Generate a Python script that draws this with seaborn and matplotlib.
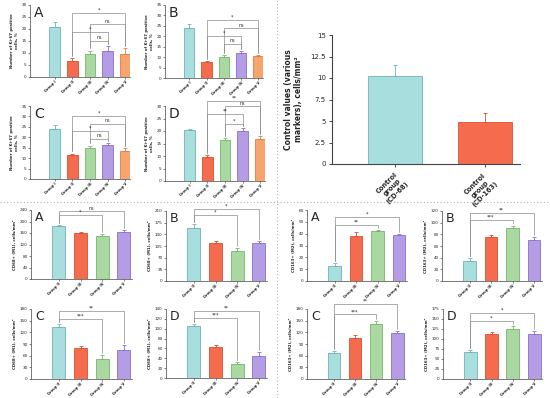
import numpy as np
import pandas as pd
import matplotlib.pyplot as plt
import seaborn as sns
from matplotlib.lines import Line2D

W, H = 550, 398

# colours (fill, edge)
CYAN = ('#a9dedf', '#6fb3b6')
RED = ('#f46b4d', '#d8502f')
GREEN = ('#a9d9a1', '#78b46f')
PURPLE = ('#b49de4', '#8a6fca')
ORANGE = ('#f7a46e', '#dd7f45')

# ---- Ki-67, top left ----
ki_groups = ['Group I', 'Group II', 'Group III', 'Group IV', 'Group V']
ki_cols = [CYAN, RED, GREEN, PURPLE, ORANGE]
ki_a = [21, 6.5, 9.5, 11, 9.5]
ki_a_err = [2, 1.5, 1.5, 2, 2.5]
ki_b = [24, 7.5, 10, 12, 10.5]
ki_b_err = [2, 0.5, 1, 1, 0.5]
ki_c = [24, 11.5, 15, 16.5, 13.5]
ki_c_err = [2, 0.7, 1, 0.7, 1.5]
ki_d = [20.5, 9.5, 16.5, 20, 17]
ki_d_err = [0.5, 0.8, 0.7, 1.2, 1]
ki_a_sig = [(1, 4, 26.5, '*'), (2, 4, 22, 'ns'), (1, 3, 18.7, '*'), (2, 3, 15.2, 'ns')]
ki_b_sig = [(1, 4, 28, '*'), (2, 4, 24, 'ns'), (1, 3, 20.2, '*'), (2, 3, 16.5, 'ns')]
ki_c_sig = [(1, 4, 30.3, '*'), (2, 4, 26.6, 'ns'), (1, 3, 23, '*'), (2, 3, 19.4, 'ns')]
ki_d_sig = [(1, 4, 32.2, '**'), (2, 4, 30, 'ns'), (1, 3, 26.8, '**'), (2, 3, 23, '*')]

# ---- control values, top right ----
ctrl_groups = ['Control\ngroup\n(CD-68)', 'Control\ngroup\n(CD-163)']
ctrl_vals = [10.2, 4.9]
ctrl_err = [1.3, 1.0]

# ---- CD68 / CD163, bottom ----
m_groups = ['Group II', 'Group III', 'Group IV', 'Group V']
m_cols = [CYAN, RED, GREEN, PURPLE]
cd68_a = [185, 160, 150, 165]
cd68_a_err = [4, 4, 5, 4]
cd68_b = [160, 113, 90, 115]
cd68_b_err = [10, 7, 8, 6]
cd68_c = [135, 80, 52, 75]
cd68_c_err = [7, 6, 10, 13]
cd68_d = [105, 63, 29, 45]
cd68_d_err = [4, 3, 3, 7]
cd163_a = [13, 38, 42, 38.5]
cd163_a_err = [2, 3, 1, 1.5]
cd163_b = [35, 76, 91, 71]
cd163_b_err = [4, 3, 4, 4]
cd163_c = [66, 105, 142, 119]
cd163_c_err = [7, 7, 8, 5]
cd163_d = [68, 113, 125, 112]
cd163_d_err = [4, 4, 7, 7]

fig = plt.figure(figsize=(W / 100, H / 100), dpi=100)
sns.set_style('white')


def panel(box, groups, vals, errs, cols, ylim, yticks, ylabel, letter, sigs,
          xlim, tick_fs=3, lab_fs=2.8, let_fs=10, xt_fs=2.6):
    x0, y0, x1, y1 = box
    ax = fig.add_axes([x0 / W, 1 - y1 / H, (x1 - x0) / W, (y1 - y0) / H])
    df = pd.DataFrame({'group': groups, 'value': vals})
    sns.barplot(data=df, x='group', y='value', hue='group',
                palette=[c[0] for c in cols], width=0.6, saturation=1,
                legend=False, ax=ax, linewidth=0.6)
    for p, c in zip(ax.patches, cols):
        p.set_edgecolor(c[1])
    for i, (v, e, c) in enumerate(zip(vals, errs, cols)):
        ax.errorbar(i, v, yerr=[[0], [e]], fmt='none', ecolor=c[1],
                    elinewidth=0.6, capsize=1.6, capthick=0.6)
    pad = 0.03 * ylim[1]
    for i, j, h, lab in sigs:
        yi = vals[i] + errs[i] + pad
        yj = vals[j] + errs[j] + pad
        ax.plot([i, i, j, j], [yi, h, h, yj], color='#8c8c8c', lw=0.5,
                clip_on=False)
        ax.text((i + j) / 2, h + 0.005 * ylim[1], lab, ha='center',
                va='bottom', fontsize=tick_fs + 0.5, clip_on=False)
    ax.set_xlim(*xlim)
    ax.set_ylim(*ylim)
    ax.set_yticks(yticks)
    ax.set_xlabel('')
    ax.set_ylabel(ylabel, fontsize=lab_fs, fontweight='bold', labelpad=2)
    ax.tick_params(labelsize=tick_fs, length=1.5, width=0.4, pad=1,
                   left=True, bottom=True)
    ax.tick_params(axis='x', labelsize=xt_fs, pad=0.8)
    for lab in ax.get_xticklabels():
        lab.set_rotation(45)
        lab.set_ha('right')
        lab.set_rotation_mode('anchor')
        lab.set_fontweight('bold')
    for s in ['left', 'bottom']:
        ax.spines[s].set_linewidth(0.5)
        ax.spines[s].set_color('#444444')
    sns.despine(ax=ax)
    if letter:
        ax.text(0.04, 0.99, letter, transform=ax.transAxes, fontsize=let_fs,
                va='top', ha='left')
    return ax


ki_lab = 'Number of Ki-67 positive\ncells, %'
ki_x = (-1.4, 4.26)
panel((30, 5, 130, 77), ki_groups, ki_a, ki_a_err, ki_cols, (0, 30),
      range(0, 31, 5), ki_lab, 'A', ki_a_sig, ki_x)
panel((165, 5, 263, 78), ki_groups, ki_b, ki_b_err, ki_cols, (0, 35),
      range(0, 36, 5), ki_lab, 'B', ki_b_sig, ki_x)
panel((30, 106, 130, 179), ki_groups, ki_c, ki_c_err, ki_cols, (0, 35),
      range(0, 36, 5), ki_lab, 'C', ki_c_sig, ki_x)
panel((165, 106, 265, 181), ki_groups, ki_d, ki_d_err, ki_cols, (0, 30),
      range(0, 31, 5), ki_lab, 'D', ki_d_sig, ki_x)

ax = panel((332, 35, 520, 164), ctrl_groups, ctrl_vals, ctrl_err, [CYAN, RED],
           (0, 15), [0, 2.5, 5, 7.5, 10, 12.5, 15],
           'Control values (various\nmarkers), cells/mm²', None, [],
           (-0.7, 1.39), tick_fs=5, lab_fs=5.5, xt_fs=4.8)
ax.set_yticklabels(['0', '2.5', '5', '7.5', '10', '12.5', '15'])
ax.tick_params(length=2.5, width=0.6, pad=2)
ax.yaxis.labelpad = 5
for s in ['left', 'bottom']:
    ax.spines[s].set_linewidth(0.8)
for lab in ax.get_xticklabels():
    lab.set_ha('right')
    lab.set_multialignment('center')
    lab.set_linespacing(1.25)

m68 = 'CD68+ (M1), cells/mm²'
m163 = 'CD163+ (M2), cells/mm²'
m_x = (-1.28, 3.37)
panel((31, 210, 132, 279), m_groups, cd68_a, cd68_a_err, m_cols, (0, 240),
      range(0, 241, 40), m68, 'A',
      [(0, 3, 236, 'ns'), (0, 2, 222, '*')], m_x, let_fs=9)
panel((166, 211, 267, 281), m_groups, cd68_b, cd68_b_err, m_cols, (0, 210),
      range(0, 211, 35), m68, 'B',
      [(0, 3, 215, '*'), (0, 2, 199, '*')], m_x, let_fs=9)
panel((31, 309, 132, 379), m_groups, cd68_c, cd68_c_err, m_cols, (0, 180),
      range(0, 181, 30), m68, 'C',
      [(0, 3, 174, '**'), (0, 2, 155, '***')], m_x, let_fs=9)
panel((166, 309, 267, 378), m_groups, cd68_d, cd68_d_err, m_cols, (0, 140),
      range(0, 141, 20), m68, 'D',
      [(0, 3, 136, '**'), (0, 2, 121, '***')], m_x, let_fs=9)
panel((307, 210, 407, 281), m_groups, cd163_a, cd163_a_err, m_cols, (0, 60),
      range(0, 61, 10), m163, 'A',
      [(0, 3, 54.4, '*'), (0, 2, 47.3, '**')], m_x, let_fs=9)
panel((442, 211, 542, 281), m_groups, cd163_b, cd163_b_err, m_cols, (0, 120),
      range(0, 121, 20), m163, 'B',
      [(0, 3, 116.6, '**'), (0, 2, 105, '***')], m_x, let_fs=9)
panel((307, 309, 405, 379), m_groups, cd163_c, cd163_c_err, m_cols, (0, 180),
      range(0, 181, 30), m163, 'C',
      [(0, 3, 192, '**'), (0, 2, 166, '***')], m_x, let_fs=9)
panel((443, 309, 542, 379), m_groups, cd163_d, cd163_d_err, m_cols, (0, 175),
      range(0, 176, 25), m163, 'D',
      [(0, 3, 164.7, '*'), (0, 2, 145, '*')], m_x, let_fs=9)

# dotted separators
fig.add_artist(Line2D([0, 1], [1 - 202 / H] * 2, transform=fig.transFigure,
                      color='#b5b5b5', lw=0.8, ls=(0, (1, 2))))
fig.add_artist(Line2D([277 / W] * 2, [0, 1], transform=fig.transFigure,
                      color='#b5b5b5', lw=0.8, ls=(0, (1, 2))))

fig.savefig('out.png', dpi=100)
